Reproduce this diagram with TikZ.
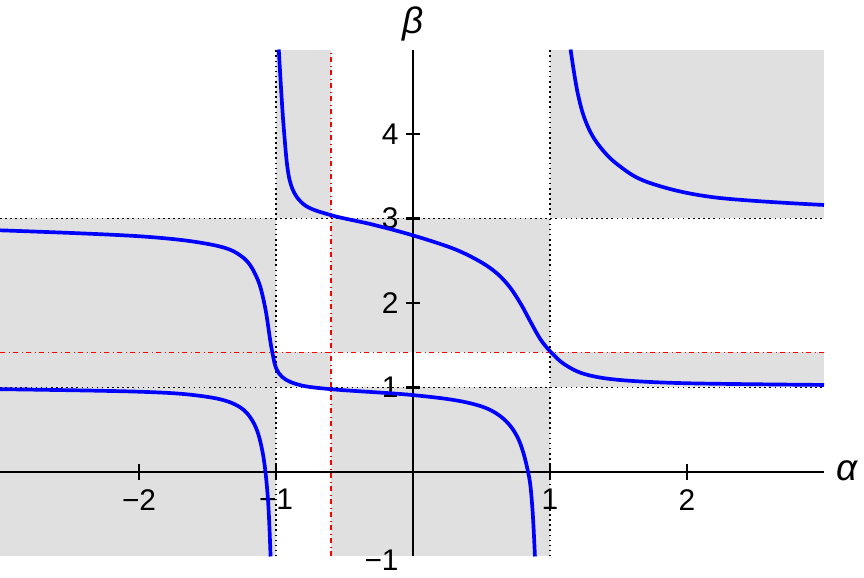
\documentclass[tikz,border=0pt]{standalone}
\usepackage{fontspec}
\setmainfont{Liberation Sans}
\begin{document}
\begin{tikzpicture}[x=2.74cm,y=1.69cm,
  gr/.style={fill=black!12,draw=none},
  dotl/.style={black,dotted,line width=0.9pt},
  redl/.style={red,dash dot,line width=0.9pt},
  crv/.style={blue,line width=2.1pt},
  ax/.style={black,line width=1.2pt},
  lab/.style={font=\fontsize{17}{17}\selectfont}]
\useasboundingbox (-3.015,-1.254) rectangle (3.292,5.586);
\def\s{1.4142}\def\r{-0.6}
% gray regions
\fill[gr] (-3.015,1) rectangle (-1,3);
\fill[gr] (-3.015,-1) rectangle (-1,1);
\fill[gr] (-1,3) rectangle (\r,5);
\fill[gr] (\r,\s) rectangle (1,3);
\fill[gr] (-1,1) rectangle (\r,\s);
\fill[gr] (\r,-1) rectangle (1,1);
\fill[gr] (1,3) rectangle (3,5);
\fill[gr] (1,1) rectangle (3,\s);
% dotted lines
\draw[dotl] (-1,-1) -- (-1,5);
\draw[dotl] (1,-1) -- (1,5);
\draw[dotl] (-3.015,1) -- (3,1);
\draw[dotl] (-3.015,3) -- (3,3);
% red lines
\draw[redl] (-3.015,\s) -- (3,\s);
\draw[redl] (\r,-1) -- (\r,5);
% axes
\draw[ax] (-3.015,0) -- (3,0);
\draw[ax] (0,-1) -- (0,5);
\foreach \v/\t in {-2/−2,-1/−1,1/1,2/2}{
  \draw[ax] (\v,-0.09) -- (\v,0.09);
  \node[lab,anchor=north] (xl\v) at (\v,-0.13) {\t};}
\foreach \v in {1,2,3,4}{
  \draw[ax] (-0.05,\v) -- (0.05,\v);
  \node[lab,anchor=east] (yl\v) at (-0.06,\v) {\v};}
\node[lab,anchor=north east] (yl-1) at (-0.06,-0.85) {−1};
\node[font=\fontsize{21}{21}\selectfont\itshape] (al) at (3.17,0.02) {α};
\node[font=\fontsize{21}{21}\selectfont\itshape] (be) at (0,5.3) {β};
% curves
\draw[crv] plot[smooth,tension=0.6] coordinates {(-3.015,2.86) (-2,2.79) (-1.47,2.69) (-1.25,2.55) (-1.14,2.3) (-1.08,1.95) (-1.03,1.44) (-0.98,1.17) (-0.85,1.04) (-0.6,0.98) (0,0.91) (0.4,0.82) (0.62,0.68) (0.76,0.42) (0.84,0.0) (0.87,-0.4) (0.89,-1)};
\draw[crv] plot[smooth,tension=0.55] coordinates {(-0.98,5) (-0.945,4.1) (-0.9,3.45) (-0.8,3.17) (-0.6,3.04) (-0.3,2.93) (0,2.8) (0.3,2.64) (0.5,2.48) (0.62,2.34) (0.71,2.18) (0.79,1.98) (0.86,1.77) (0.93,1.57) (1,1.43) (1.1,1.28) (1.25,1.16) (1.5,1.09) (2,1.05) (3,1.03)};
\draw[crv] plot[smooth,tension=0.6] coordinates {(-3.015,0.98) (-2,0.95) (-1.55,0.9) (-1.3,0.8) (-1.17,0.6) (-1.1,0.25) (-1.06,-0.3) (-1.04,-1)};
\draw[crv] plot[smooth,tension=0.6] coordinates {(1.15,5) (1.2,4.5) (1.26,4.15) (1.35,3.88) (1.5,3.63) (1.73,3.42) (2.2,3.25) (3,3.16)};
\end{tikzpicture}
\end{document}
